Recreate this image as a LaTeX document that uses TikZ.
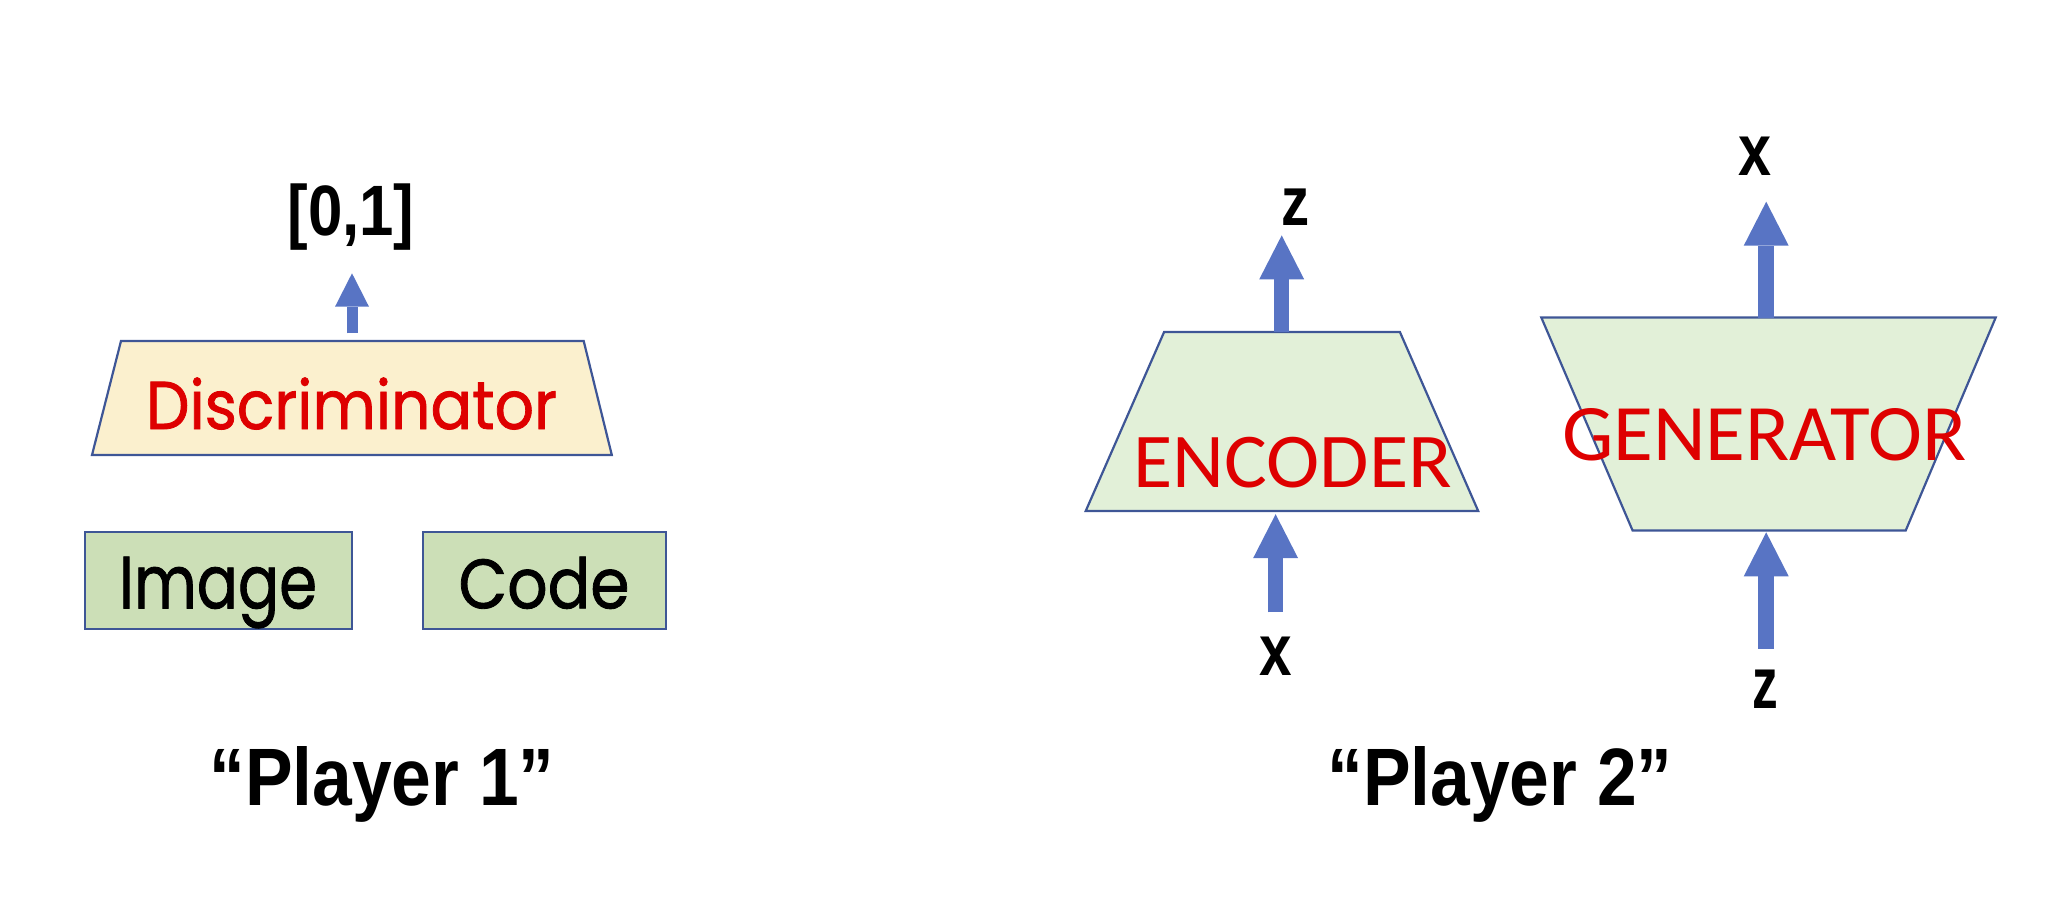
\documentclass[tikz,border=0pt]{standalone}
\usepackage{fontspec}
\setmainfont{Liberation Sans}
\newfontfamily\geofont{Poppins}[FakeBold=1.2]
\newfontfamily\calfont{Carlito}
\usetikzlibrary{arrows.meta}
\definecolor{edge}{RGB}{62,86,150}
\definecolor{arrowblue}{RGB}{88,116,196}
\definecolor{discfill}{RGB}{251,240,206}
\definecolor{boxfill}{RGB}{204,223,183}
\definecolor{netfill}{RGB}{226,240,216}
\definecolor{txtred}{RGB}{222,0,0}
\newcommand{\fitbox}[3]{\resizebox{#1pt}{#2pt}{#3}}
\begin{document}
\begin{tikzpicture}[x=1pt,y=-1pt,
  shapeline/.style={draw=edge,line width=2.2pt,line join=miter},
  lbl/.style={anchor=base,inner sep=0pt,outer sep=0pt},
  smallarrow/.style={draw=arrowblue,line width=11pt,-{Triangle[width=34pt,length=33.4pt,line width=0pt,fill=arrowblue]}},
  bigarrow/.style={draw=arrowblue,line width=15.5pt,-{Triangle[width=45pt,length=44pt,line width=0pt,fill=arrowblue]}},
  inbox/.style={shapeline,fill=boxfill,rectangle,inner sep=0pt,outer sep=0pt}]
\path[use as bounding box] (0,0) rectangle (2072,914);

% ---------- Player 1 ----------
\coordinate (dTL) at (121,341);
\coordinate (dTR) at (583.7,341);
\coordinate (dBR) at (611.8,455);
\coordinate (dBL) at (92,455);
\draw[shapeline,fill=discfill] (dTL) -- (dTR) -- (dBR) -- (dBL) -- cycle;
\node[lbl,text=txtred] (disctxt) at (351.5,429) {\fitbox{411}{51.5}{\geofont Discriminator}};

\coordinate (dout) at (352,333.3);
\coordinate (dtip) at (352,273.3);
\draw[smallarrow] (dout) -- (dtip);
\node[lbl] (range) at (351,235) {\fitbox{127}{51.7}{\bfseries [0,1]}};

\node[inbox,minimum width=266.9pt,minimum height=97pt] (imgbox) at (218.75,580.8) {};
\node[inbox,minimum width=242.8pt,minimum height=97pt] (codebox) at (544.7,580.8) {};
\node[lbl] (imgtxt) at (218,608.3) {\fitbox{198}{51.6}{\geofont Image}};
\node[lbl] (codetxt) at (544,608.3) {\fitbox{171}{51.6}{\geofont Code}};

\node[lbl] (p1) at (382,805) {\fitbox{345}{59}{\bfseries “Player 1”}};

% ---------- Player 2: encoder ----------
\coordinate (eTL) at (1164.1,332);
\coordinate (eTR) at (1399.9,332);
\coordinate (eBR) at (1478.2,511);
\coordinate (eBL) at (1085.7,511);
\draw[shapeline,fill=netfill] (eTL) -- (eTR) -- (eBR) -- (eBL) -- cycle;
\node[lbl,text=txtred] (enctxt) at (1292.7,487.3) {\fitbox{318.4}{50.3}{\calfont ENCODER}};

\coordinate (eout) at (1281.7,332);
\coordinate (etip) at (1281.7,235.4);
\draw[bigarrow] (eout) -- (etip);
\node[lbl] (ez) at (1295.8,225.8) {\fitbox{28.1}{36.6}{\bfseries z}};

\coordinate (ein) at (1275.6,612.3);
\coordinate (eintip) at (1275.6,514.2);
\draw[bigarrow] (ein) -- (eintip);
\node[lbl] (ex) at (1275.3,675.8) {\fitbox{32.5}{38.5}{\bfseries x}};

% ---------- Player 2: generator ----------
\coordinate (gTL) at (1541.3,317.5);
\coordinate (gTR) at (1995.7,317.5);
\coordinate (gBR) at (1905.7,530.5);
\coordinate (gBL) at (1632.6,530.5);
\draw[shapeline,fill=netfill] (gTL) -- (gTR) -- (gBR) -- (gBL) -- cycle;
\node[lbl,text=txtred] (gentxt) at (1764.2,460.4) {\fitbox{404}{52}{\calfont GENERATOR}};

\coordinate (gout) at (1766.2,317.5);
\coordinate (gtip) at (1766.2,201.7);
\draw[bigarrow] (gout) -- (gtip);
\node[lbl] (gx) at (1755,175.8) {\fitbox{33}{38.5}{\bfseries x}};

\coordinate (gin) at (1766.2,648.8);
\coordinate (gintip) at (1766.2,532.3);
\draw[bigarrow] (gin) -- (gintip);
\node[lbl] (gz) at (1765,708.5) {\fitbox{25.7}{38.5}{\bfseries z}};

\node[lbl] (p2) at (1500,805) {\fitbox{345}{59}{\bfseries “Player 2”}};
\end{tikzpicture}
\end{document}
